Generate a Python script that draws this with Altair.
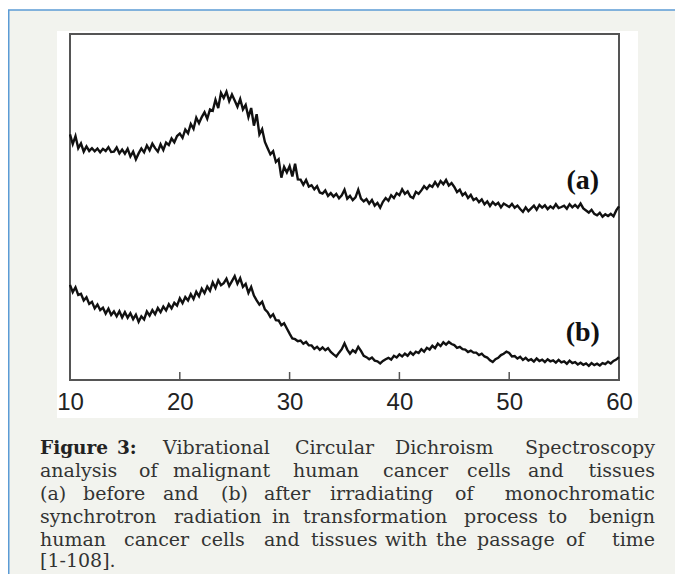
import altair as alt
import pandas as pd

# ---------------- data ----------------
x_start = 10.0
x_step = 0.25

series_a = [
    71.0, 68.2, 70.5, 67.0,   # 10
    68.4, 66.0, 67.5, 66.2,   # 11
    67.0, 66.1, 66.9, 65.8,   # 12
    66.8, 66.2, 67.3, 65.9,   # 13
    66.0, 67.2, 65.5, 66.6,   # 14
    65.4, 66.8, 64.6, 66.0,   # 15
    63.8, 65.5, 66.9, 65.8,   # 16
    67.8, 66.4, 68.3, 67.0,   # 17
    66.0, 68.1, 66.5, 68.6,   # 18
    67.9, 69.8, 68.7, 70.5,   # 19
    71.2, 70.0, 72.4, 71.3,   # 20
    74.0, 72.6, 75.8, 74.2,   # 21
    76.0, 77.4, 75.5, 78.2,   # 22
    77.8, 81.0, 78.6, 83.0,   # 23
    81.5, 83.3, 80.6, 82.5,   # 24
    80.8, 79.0, 81.2, 78.2,   # 25
    79.5, 76.0, 78.6, 73.5,   # 26
    76.8, 71.0, 72.5, 68.8,   # 27
    67.0, 65.2, 66.1, 63.0,   # 28
    63.8, 58.5, 61.6, 60.0,   # 29
    61.8, 58.8, 62.5, 58.0,   # 30
    57.9, 56.4, 57.8, 55.9,   # 31
    56.3, 55.1, 56.0, 54.2,   # 32
    53.9, 54.8, 53.2, 54.0,   # 33
    53.0, 53.8, 52.5, 53.4,   # 34
    55.0, 52.4, 53.2, 52.0,   # 35
    52.8, 55.0, 52.4, 51.6,   # 36
    52.3, 51.0, 52.0, 50.4,   # 37
    51.2, 49.8, 51.5, 52.6,   # 38
    51.8, 53.4, 52.6, 54.0,   # 39
    53.4, 55.1, 53.8, 54.5,   # 40
    53.0, 52.6, 54.4, 53.8,   # 41
    54.8, 56.0, 55.2, 56.3,   # 42
    55.8, 57.2, 56.0, 57.5,   # 43
    56.6, 57.8, 56.2, 56.9,   # 44
    55.8, 54.3, 55.0, 53.4,   # 45
    54.1, 52.6, 53.5, 52.0,   # 46
    52.5, 51.4, 52.2, 50.8,   # 47
    51.6, 50.3, 51.4, 50.6,   # 48
    51.2, 49.9, 51.0, 50.5,   # 49
    50.0, 50.9, 49.8, 50.4,   # 50
    49.4, 48.6, 49.9, 48.8,   # 51
    49.6, 50.4, 49.2, 50.6,   # 52
    49.8, 50.5, 49.4, 50.2,   # 53
    49.6, 50.8, 49.7, 50.0,   # 54
    50.4, 49.5, 50.8, 49.9,   # 55
    50.6, 49.8, 51.0, 49.6,   # 56
    49.0, 48.4, 49.2, 48.0,   # 57
    47.6, 48.3, 47.2, 47.9,   # 58
    47.4, 48.0, 47.3, 49.0,   # 59
    50.2,                     # 60
]

series_b = [
    27.5, 25.4, 26.8, 24.6,   # 10
    24.9, 23.0, 23.9, 22.0,   # 11
    22.6, 20.7, 21.8, 20.2,   # 12
    20.9, 19.2, 20.6, 18.8,   # 13
    19.8, 18.4, 19.9, 18.1,   # 14
    19.6, 18.0, 19.3, 17.6,   # 15
    18.9, 16.8, 18.4, 17.5,   # 16
    19.8, 18.6, 20.2, 19.0,   # 17
    20.8, 19.6, 21.2, 20.1,   # 18
    21.9, 20.7, 22.3, 21.5,   # 19
    23.6, 22.2, 24.0, 23.0,   # 20
    24.8, 23.4, 25.5, 24.2,   # 21
    26.4, 25.1, 27.0, 25.8,   # 22
    28.2, 26.6, 28.8, 27.4,   # 23
    28.0, 29.3, 27.2, 28.6,   # 24
    30.0, 27.8, 29.4, 26.9,   # 25
    27.8, 25.2, 26.9, 24.4,   # 26
    23.0, 21.8, 22.6, 20.4,   # 27
    19.6, 18.2, 19.0, 17.3,   # 28
    17.2, 15.8, 16.4, 14.9,   # 29
    13.4, 12.0, 11.8, 11.2,   # 30
    11.4, 10.5, 11.0, 10.0,   # 31
    10.0, 9.0, 9.6, 8.7,      # 32
    9.4, 8.6, 9.2, 8.1,       # 33
    7.4, 6.8, 7.9, 8.9,       # 34
    10.6, 8.8, 7.6, 8.6,      # 35
    8.0, 9.6, 8.4, 7.0,       # 36
    6.6, 6.0, 6.5, 5.6,       # 37
    5.4, 4.8, 5.5, 6.0,       # 38
    6.4, 5.9, 7.0, 6.5,       # 39
    7.4, 6.8, 7.6, 7.0,       # 40
    8.0, 7.3, 8.2, 7.8,       # 41
    8.9, 8.2, 9.3, 8.8,       # 42
    9.9, 9.2, 10.5, 9.8,      # 43
    10.9, 10.2, 11.0, 10.4,   # 44
    10.1, 9.3, 9.6, 8.9,      # 45
    8.8, 8.1, 8.5, 7.9,       # 46
    7.9, 7.2, 7.6, 6.8,       # 47
    6.5, 5.7, 5.2, 6.0,       # 48
    6.4, 7.2, 7.6, 8.2,       # 49
    7.8, 6.8, 6.9, 6.2,       # 50
    6.7, 5.8, 6.4, 5.6,       # 51
    6.0, 5.3, 6.2, 5.5,       # 52
    5.9, 5.2, 6.0, 5.4,       # 53
    5.7, 5.0, 5.8, 5.1,       # 54
    5.4, 4.7, 5.6, 4.9,       # 55
    5.2, 4.5, 5.0, 4.4,       # 56
    4.8, 4.1, 4.9, 4.3,       # 57
    4.7, 4.2, 4.9, 4.6,       # 58
    5.3, 4.8, 5.5, 5.9,       # 59
    6.6,                      # 60
]

x_tick_values = [10, 20, 30, 40, 50, 60]
inner_tick_values = [20, 30, 40, 50]

series_labels = ["(a)", "(b)"]
series_label_x = [56.7, 56.7]
series_label_y = [57.5, 13.6]

caption_lines = [
    "Figure 3: Vibrational Circular Dichroism Spectroscopy",
    "analysis of malignant human cancer cells and tissues",
    "(a) before and (b) after irradiating of monochromatic",
    "synchrotron radiation in transformation process to benign",
    "human cancer cells and tissues with the passage of time",
    "[1-108].",
]

# ---------------- layout (pixels) ----------------
W, H = 549, 346
PAD_L, PAD_T = 62, 26
CANVAS_W, CANVAS_H = 667, 566          # fits inside the window with the 8px page margin
OX, OY = PAD_L + 8, PAD_T + 8          # page position of plot origin

# word start positions (page px); the last word of a justified line is right-aligned
caption_word_x = [
    [40, 117, 163, 295, 395, 655],
    [40, 139, 173, 293, 383, 467, 528, 655],
    [40, 83, 163, 221, 264, 330, 455, 655],
    [40, 174, 272, 303, 464, 548, 655],
    [40, 124, 201, 264, 311, 385, 436, 477, 566, 655],
    [40],
]
caption_justified = [True, True, True, True, True, False]
caption_baselines = [454, 477, 500, 523, 546, 567]

# ---------------- build frames ----------------
rows = []
for name, vals in (("a", series_a), ("b", series_b)):
    for i, v in enumerate(vals):
        rows.append({"x": x_start + i * x_step, "y": v, "series": name})
df_lines = pd.DataFrame(rows)

df_ticks = pd.DataFrame({"x": inner_tick_values})
df_labels = pd.DataFrame({"label": series_labels, "x": series_label_x, "y": series_label_y})

cap_rows = []
for li, line in enumerate(caption_lines):
    words = line.split(" ")
    for wi, word in enumerate(words):
        last = caption_justified[li] and wi == len(words) - 1
        cap_rows.append({
            "word": word,
            "px": caption_word_x[li][wi] - OX,
            "py": caption_baselines[li] - OY,
            "kind": "bold" if (li == 0 and wi < 2) else ("right" if last else "left"),
        })
df_cap = pd.DataFrame(cap_rows)

x_scale = alt.Scale(domain=[10, 60], nice=False, zero=False)
y_scale = alt.Scale(domain=[0, 100], nice=False, zero=False)

one = pd.DataFrame({"k": [0]})

top_white = alt.Chart(one).mark_rect(color="white").encode(
    x=alt.value(-PAD_L), x2=alt.value(CANVAS_W - PAD_L),
    y=alt.value(-PAD_T), y2=alt.value(-PAD_T + 2),
)
blue_top = alt.Chart(one).mark_rule(color="#5b9bd5", strokeWidth=1.5).encode(
    x=alt.value(-PAD_L), x2=alt.value(CANVAS_W - PAD_L), y=alt.value(10 - OY),
)
blue_left = alt.Chart(one).mark_rule(color="#5b9bd5", strokeWidth=1.5).encode(
    x=alt.value(-PAD_L + 0.75), y=alt.value(10 - OY), y2=alt.value(CANVAS_H - PAD_T),
)
white_box = alt.Chart(one).mark_rect(color="white").encode(
    x=alt.value(57 - OX), x2=alt.value(638 - OX),
    y=alt.value(31 - OY), y2=alt.value(418 - OY),
)
frame = alt.Chart(one).mark_rect(fill=None, stroke="#555555", strokeWidth=2).encode(
    x=alt.value(0), x2=alt.value(W), y=alt.value(0), y2=alt.value(H),
)

lines = alt.Chart(df_lines).mark_line(color="#111111", strokeWidth=2.4).encode(
    x=alt.X("x:Q", scale=x_scale,
            axis=alt.Axis(values=x_tick_values, ticks=False, domain=False, grid=False,
                          title=None, labelFont="Liberation Sans", labelFontSize=24,
                          labelColor="#222222", labelPadding=29, labelBaseline="alphabetic",
                          labelFlush=False, labelOverlap=False, format="d", zindex=2)),
    y=alt.Y("y:Q", scale=y_scale, axis=None),
    detail="series:N",
)

ticks = alt.Chart(df_ticks).mark_rule(color="#555555", strokeWidth=1.5).encode(
    x=alt.X("x:Q", scale=x_scale),
    y=alt.value(H), y2=alt.value(H - 8),
)

labels = alt.Chart(df_labels).mark_text(
    font="Liberation Serif", fontWeight="bold", fontSize=28, color="#111111",
    align="center", baseline="middle",
).encode(
    x=alt.X("x:Q", scale=x_scale),
    y=alt.Y("y:Q", scale=y_scale),
    text="label:N",
)


def caption_layer(kind, align, weight, size, color):
    return alt.Chart(df_cap[df_cap["kind"] == kind]).mark_text(
        font="DejaVu Serif", fontSize=size, fontWeight=weight, color=color,
        align=align, baseline="alphabetic",
    ).encode(
        x=alt.X("px:Q", scale=None, axis=None),
        y=alt.Y("py:Q", scale=None, axis=None),
        text="word:N",
    )


cap_left = caption_layer("left", "left", "normal", 19, "#333333")
cap_right = caption_layer("right", "right", "normal", 19, "#333333")
cap_bold = caption_layer("bold", "left", "bold", 18.5, "#222222")

chart = alt.layer(
    top_white, blue_top, blue_left, white_box, frame, ticks, lines, labels,
    cap_left, cap_right, cap_bold,
).properties(
    width=W, height=H,
    autosize=alt.AutoSizeParams(type="none"),
    padding={"left": PAD_L, "top": PAD_T, "right": CANVAS_W - PAD_L - W, "bottom": CANVAS_H - PAD_T - H},
    background="#f2f3ee",
).configure_view(strokeWidth=0)

chart.save("out.html", embed_options={"renderer": "svg", "actions": False})
